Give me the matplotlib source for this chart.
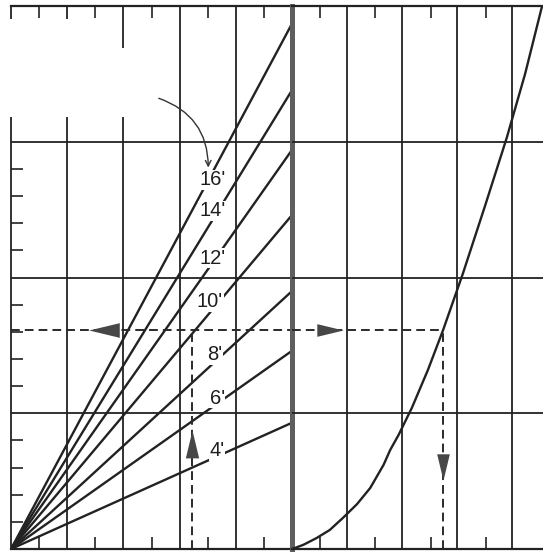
import matplotlib
matplotlib.use('Agg')
import matplotlib.pyplot as plt
from matplotlib.patches import Rectangle

# Rectas del abanico (panel izquierdo): valor al llegar al borde x = 5
fan_labels = ["4'", "6'", "8'", "10'", "12'", "14'", "16'"]
fan_end_y = [0.93, 1.46, 1.90, 2.46, 2.94, 3.38, 3.87]
label_x = [3.67, 3.67, 3.63, 3.54, 3.59, 3.58, 3.58]
label_dy = [0.04, 0.04, 0.05, 0.08, 0.03, 0.07, -0.05]

# Curva del panel derecho
curve_x = [0, 0.20, 0.44, 0.68, 0.92, 1.17, 1.41, 1.65, 1.77, 1.92, 2.16,
           2.45, 2.72, 3.08, 3.48, 3.87, 4.20, 4.50]
curve_y = [0, 0.03, 0.08, 0.14, 0.23, 0.33, 0.45, 0.62, 0.73, 0.84, 1.04,
           1.32, 1.61, 2.03, 2.53, 3.03, 3.50, 3.99]

# Ejemplo de lectura (lineas discontinuas)
read_x_left = 3.22
read_y = 1.61
read_x_right = 2.72

LINE = '#222222'
DIV = '#5e5e5e'
ARROW = '#474747'

plt.rcParams['font.family'] = ['Liberation Sans', 'DejaVu Sans']

fig = plt.figure(figsize=(5.43, 5.53), dpi=100)
ax1 = fig.add_axes([11 / 543, 4 / 553, 281 / 543, 543 / 553])
ax2 = fig.add_axes([292 / 543, 4 / 553, 251 / 543, 543 / 553])
ax2.patch.set_visible(False)

XMAX2 = 251 / 55.5
ax1.set_xlim(0, 5)
ax2.set_xlim(0, XMAX2)
for ax in (ax1, ax2):
    ax.set_ylim(0, 4)
    ax.tick_params(which='both', direction='in', length=8.5, width=1.2,
                   color=LINE, labelbottom=False, labelleft=False,
                   top=True, bottom=True, left=False, right=False)
    for s in ('top', 'bottom'):
        ax.spines[s].set_linewidth(1.6)
        ax.spines[s].set_color(LINE)
    for y in (1, 2, 3):
        ax.axhline(y, color=LINE, lw=1.3, zorder=1)

# panel izquierdo
ax1.set_xticks([0.5, 1.5, 2.5, 3.5, 4.5])
ax1.set_yticks([y / 5 for y in range(20) if y % 5 != 0])
ax1.tick_params(axis='y', left=True)
ax1.spines['left'].set_linewidth(1.3)
ax1.spines['left'].set_color(LINE)
ax1.spines['right'].set_visible(False)
for x in (1, 2, 3, 4):
    ax1.axvline(x, color=LINE, lw=1.3, zorder=1)

for lab, yend, lx, dy in zip(fan_labels, fan_end_y, label_x, label_dy):
    ax1.plot([0, 5], [0, yend], color=LINE, lw=1.7, zorder=2, solid_capstyle='butt')
    ax1.text(lx, yend * lx / 5 + dy, lab, fontsize=14.5, color='#1e1e1e',
             ha='center', va='center', zorder=3,
             bbox=dict(fc='white', ec='none', pad=0.5))

# linea divisoria gruesa
ax1.axvline(5, color=DIV, lw=3.6, zorder=4, clip_on=False)

# panel derecho
ax2.set_xticks([0.5, 1.5, 2.5, 3.5])
ax2.set_yticks([])
ax2.spines['left'].set_visible(False)
ax2.spines['right'].set_visible(False)
for x in (1, 2, 3, 4):
    ax2.axvline(x * 0.99, color=LINE, lw=1.3, zorder=1)
ax2.plot(curve_x, curve_y, color=LINE, lw=1.7, zorder=2)

# lineas discontinuas del ejemplo
dash = dict(color='#2a2a2a', lw=1.4, ls=(0, (4.5, 2.6)), zorder=3)
ax1.plot([0, 5], [read_y, read_y], **dash)
ax1.plot([read_x_left, read_x_left], [0, read_y], **dash)
ax2.plot([0, read_x_right], [read_y, read_y], **dash)
ax2.plot([read_x_right, read_x_right], [0, read_y], **dash)

# puntas de flecha
h = 0.48
left_tri = [(-1, 0), (1, h), (1, -h), (-1, 0)]
right_tri = [(1, 0), (-1, h), (-1, -h), (1, 0)]
up_tri = [(0, 1), (h, -1), (-h, -1), (0, 1)]
down_tri = [(0, -1), (h, 1), (-h, 1), (0, -1)]
mk = dict(color=ARROW, mew=0, zorder=4, clip_on=False)
ax1.plot(1.66, read_y, marker=left_tri, ms=22, **mk)
ax2.plot(0.68, read_y, marker=right_tri, ms=19, **mk)
ax1.plot(read_x_left, 0.77, marker=up_tri, ms=20, **mk)
ax2.plot(read_x_right, 0.605, marker=down_tri, ms=19, **mk)

# flecha curva hacia la etiqueta 16'
ax1.annotate('', xy=(3.51, 2.81), xytext=(2.63, 3.32),
             arrowprops=dict(arrowstyle='->', connectionstyle='arc3,rad=-0.35',
                             lw=1.0, color='#333333', shrinkA=0, shrinkB=0))

# zona borrada arriba a la izquierda
ax1.add_patch(Rectangle((-0.1, 3.18), 2.13, 0.51, fc='white', ec='none',
                        zorder=6, clip_on=False))
ax1.add_patch(Rectangle((-0.1, 3.68), 2.07, 0.225, fc='white', ec='none',
                        zorder=6, clip_on=False))

fig.savefig('out.png', dpi=100)
